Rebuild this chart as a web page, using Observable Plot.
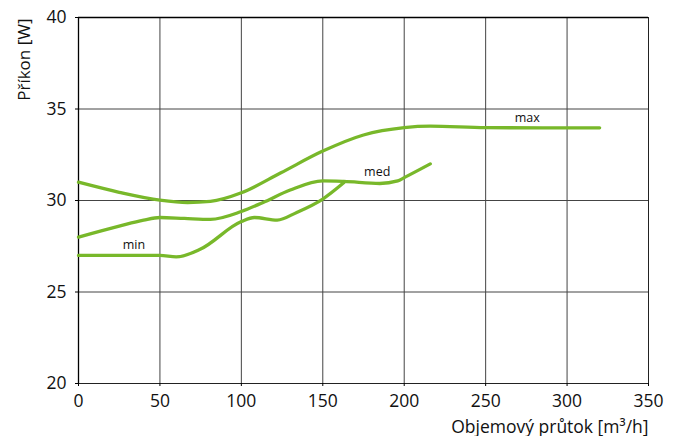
<!DOCTYPE html>
<html>
<head>
<meta charset="utf-8">
<script src="https://cdn.jsdelivr.net/npm/d3@7"></script>
<script src="https://cdn.jsdelivr.net/npm/@observablehq/plot@0.6"></script>
<style>
  body { margin: 0; background: #fff; }
  #chart svg { display: block; }
</style>
</head>
<body>
<div id="chart"></div>
<script>
const xTicks = [0, 50, 100, 150, 200, 250, 300, 350];
const yTicks = [20, 25, 30, 35, 40];

const maxX = [0, 25, 50, 67, 81, 100, 124, 150, 175, 200, 216, 250, 285, 320];
const maxY = [31.0, 30.45, 30.02, 29.89, 29.95, 30.42, 31.5, 32.7, 33.58, 33.98, 34.06, 33.98, 33.97, 33.97];

const medX = [0, 25, 40, 50, 65, 81, 100, 113, 130, 150, 163, 185, 196, 200, 216];
const medY = [28.0, 28.6, 28.93, 29.07, 29.02, 28.97, 29.4, 29.88, 30.57, 31.07, 31.04, 30.93, 31.07, 31.25, 32.0];

const minX = [0, 50, 60, 75, 100, 108, 122, 134, 150, 163];
const minY = [27.0, 27.0, 26.92, 27.35, 28.85, 29.07, 28.93, 29.35, 30.08, 30.98];

const labelNames = ["max", "med", "min"];
const labelX = [275.5, 183.4, 34];
const labelY = [34.53, 31.58, 27.57];

const xTitle = "Objemový průtok [m³/h]";
const yTitle = "Příkon [W]";

const toRows = (xs, ys, s) => xs.map((x, i) => ({x, y: ys[i], s}));
const rows = [
  ...toRows(maxX, maxY, "max"),
  ...toRows(medX, medY, "med"),
  ...toRows(minX, minY, "min")
];
const labels = labelNames.map((n, i) => ({n, x: labelX[i], y: labelY[i]}));

const green = "#78b82a";

const chart = Plot.plot({
  width: 680,
  height: 436,
  marginLeft: 78,
  marginRight: 32,
  marginTop: 17,
  marginBottom: 53,
  style: {fontFamily: "'Open Sans', sans-serif", color: "#111", background: "#fff"},
  x: {domain: [0, 350]},
  y: {domain: [20, 40]},
  marks: [
    Plot.gridX(xTicks, {stroke: "#444", strokeOpacity: 1, strokeWidth: 1}),
    Plot.gridY(yTicks, {stroke: "#444", strokeOpacity: 1, strokeWidth: 1}),
    Plot.frame({stroke: "#222", strokeWidth: 1}),
    Plot.ruleX([0], {stroke: "#000", strokeWidth: 1.3}),
    Plot.ruleY([40], {stroke: "#000", strokeWidth: 1.3}),
    Plot.axisX({ticks: xTicks, tickSize: 3, tickPadding: 8, fontSize: 17.5, label: null, stroke: "#000"}),
    Plot.axisY({ticks: yTicks, tickSize: 3, tickPadding: 9, fontSize: 17.5, label: null, stroke: "#000"}),
    Plot.line(rows, {x: "x", y: "y", z: "s", stroke: green, strokeWidth: 3.3, curve: "monotone-x"}),
    Plot.text(labels, {x: "x", y: "y", text: "n", fontSize: 12.5, fill: "#111"}),
    Plot.text([xTitle], {frameAnchor: "bottom-right", text: d => d, textAnchor: "end", lineAnchor: "bottom", dy: 49, fontSize: 17.5, fill: "#111"}),
    Plot.text([yTitle], {frameAnchor: "top-left", text: d => d, rotate: -90, textAnchor: "end", lineAnchor: "bottom", dx: -49, dy: 1, fontSize: 17, fill: "#111"})
  ]
});
document.getElementById("chart").appendChild(chart);
</script>
</body>
</html>
